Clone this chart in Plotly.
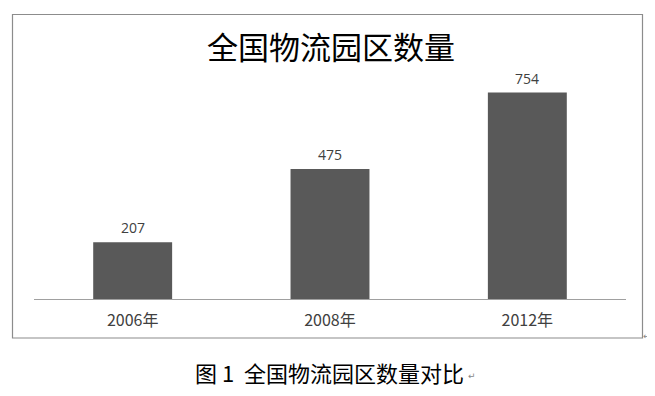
import plotly.graph_objects as go

categories = ["2006年", "2008年", "2012年"]
values = [207, 475, 754]
title_text = "全国物流园区数量"
caption_text = "图 1  全国物流园区数量对比"

# page body has an 8px margin; work in reference-screen coordinates
OFF = 8
W, H = 655 - OFF, 396 - OFF
ref_left, ref_right, ref_top, ref_bottom = 34, 626, 80, 299
ml = ref_left - OFF
mr = W - (ref_right - OFF)
mt = ref_top - OFF
mb = H - (ref_bottom - OFF)
pw = W - ml - mr
ph = H - mt - mb

def px(x):
    return (x - ref_left) / pw

def py(y):
    return (ref_bottom - y) / ph

fig = go.Figure(go.Bar(
    x=categories, y=values,
    marker=dict(color="#595959", line=dict(width=0)),
    width=0.4,
))

label_annots = [
    dict(x=c, y=v, xref="x", yref="y", text=str(v), showarrow=False,
         xanchor="center", yanchor="bottom", yshift=3,
         font=dict(family="Open Sans, DejaVu Sans, sans-serif", size=14, color="#404040"))
    for c, v in zip(categories, values)
]

def note(text, x, y, size, family, color="black"):
    return dict(text=text, xref="paper", yref="paper", x=px(x), y=py(y),
                xanchor="center", yanchor="middle", showarrow=False,
                font=dict(family=family, size=size, color=color))

fig.update_layout(
    width=W, height=H,
    margin=dict(l=ml, r=mr, t=mt, b=mb),
    paper_bgcolor="white", plot_bgcolor="white",
    showlegend=False,
    xaxis=dict(showline=True, linecolor="#a0a0a0", linewidth=1, ticks="",
               ticklabelstandoff=7,
               tickfont=dict(family="Noto Sans CJK SC, sans-serif", size=16, color="#404040"),
               showgrid=False),
    yaxis=dict(range=[0, 800], visible=False, showgrid=False),
    shapes=[dict(type="rect", xref="paper", yref="paper",
                 x0=px(12.5), x1=px(642.5), y0=py(14.5), y1=py(338),
                 line=dict(color="#8c8c8c", width=1.2))],
    annotations=label_annots + [
        note(title_text, 331, 46, 31, "Noto Sans CJK SC, sans-serif"),
        note(caption_text, 329, 372, 22, "Noto Sans CJK SC, sans-serif"),
        note("↵", 472, 376, 9, "DejaVu Sans, sans-serif", "#888"),
        note("↵", 647, 336, 9, "DejaVu Sans, sans-serif", "#888"),
    ],
)

fig.write_html("out.html")
